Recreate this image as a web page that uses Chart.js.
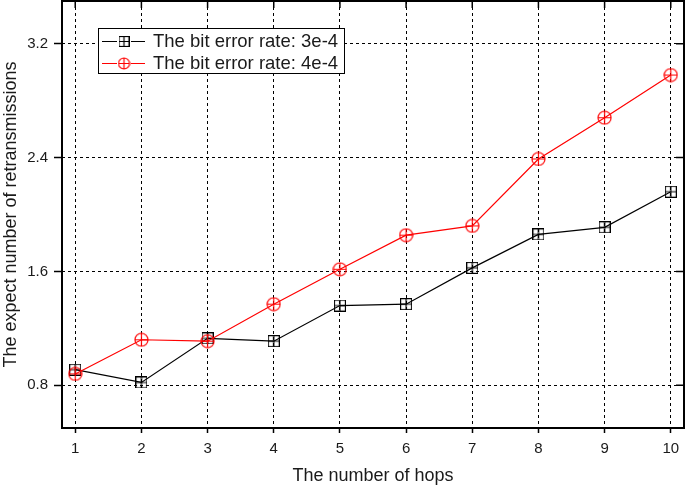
<!DOCTYPE html>
<html lang="en">
<head>
<meta charset="UTF-8">
<title>Expected retransmissions vs number of hops</title>
<script src="https://cdn.jsdelivr.net/npm/chart.js"></script>
<style>
    body { margin: 0; background: #fff; }
    .chart-container { width: 685px; height: 487px; }
</style>
</head>
<body>

<div class="chart-container"><canvas id="chart" width="685" height="487"></canvas></div>

<script>
    const hops = [1, 2, 3, 4, 5, 6, 7, 8, 9, 10];
    const ber3e4 = [0.91, 0.82, 1.13, 1.11, 1.36, 1.37, 1.625, 1.86, 1.91, 2.16];
    const ber4e4 = [0.88, 1.12, 1.11, 1.37, 1.615, 1.855, 1.92, 2.39, 2.68, 2.98];
    const yTicks = [0.8, 1.6, 2.4, 3.2];
    const seriesNames = ['The bit error rate: 3e-4', 'The bit error rate: 4e-4'];

    const FONT = '"Liberation Sans", Arial, Helvetica, sans-serif';
    const TEXT = '#1a1a1a';

    // square with a plus inside
    function boxPlus(size, color) {
        const c = document.createElement('canvas');
        c.width = c.height = size + 1;
        const ctx = c.getContext('2d');
        ctx.strokeStyle = color;
        ctx.lineWidth = 1.2;
        const m = (size + 1) / 2;
        ctx.strokeRect(0.5, 0.5, size, size);
        ctx.beginPath();
        ctx.moveTo(m, 0.5); ctx.lineTo(m, size + 0.5);
        ctx.moveTo(0.5, m); ctx.lineTo(size + 0.5, m);
        ctx.stroke();
        return c;
    }

    // circle with a plus inside
    function circlePlus(size, color) {
        const c = document.createElement('canvas');
        c.width = c.height = size + 2;
        const ctx = c.getContext('2d');
        ctx.strokeStyle = color;
        ctx.lineWidth = 1.2;
        const m = (size + 2) / 2, r = size / 2;
        ctx.beginPath();
        ctx.arc(m, m, r, 0, Math.PI * 2);
        ctx.moveTo(m, m - r); ctx.lineTo(m, m + r);
        ctx.moveTo(m - r, m); ctx.lineTo(m + r, m);
        ctx.stroke();
        return c;
    }

    const blackMark = boxPlus(11, '#000');
    const redMark = circlePlus(13, '#ff0000');

    const frameAndLegend = {
        id: 'frameAndLegend',
        afterDraw(chart) {
            const { ctx, chartArea: a, scales } = chart;
            ctx.save();
            // frame
            ctx.strokeStyle = '#000';
            ctx.lineWidth = 2;
            ctx.strokeRect(a.left, a.top, a.right - a.left, a.bottom - a.top);
            // mirrored ticks on top and right, pointing inside
            ctx.lineWidth = 1.5;
            ctx.beginPath();
            hops.forEach(v => {
                const x = scales.x.getPixelForValue(v);
                ctx.moveTo(x, a.top); ctx.lineTo(x, a.top + 7);
            });
            yTicks.forEach(v => {
                const y = scales.y.getPixelForValue(v);
                ctx.moveTo(a.right, y); ctx.lineTo(a.right - 8, y);
            });
            ctx.stroke();

            // legend box
            const lx = 98, ly = 28, lw = 246, lh = 45;
            ctx.fillStyle = '#fff';
            ctx.fillRect(lx, ly, lw, lh);
            ctx.lineWidth = 1;
            ctx.strokeStyle = '#000';
            ctx.strokeRect(lx + 0.5, ly + 0.5, lw, lh);

            const rows = [
                { y: 41.5, color: '#000', mark: boxPlus(10, '#000') },
                { y: 63.5, color: '#ff0000', mark: circlePlus(11, '#ff0000') }
            ];
            ctx.font = '18.5px ' + FONT;
            ctx.textBaseline = 'middle';
            ctx.textAlign = 'left';
            rows.forEach((r, i) => {
                ctx.strokeStyle = r.color;
                ctx.lineWidth = 1.2;
                ctx.beginPath();
                ctx.moveTo(102, r.y); ctx.lineTo(117, r.y);
                ctx.moveTo(131, r.y); ctx.lineTo(145, r.y);
                ctx.stroke();
                ctx.drawImage(r.mark, 124 - r.mark.width / 2, r.y - r.mark.height / 2);
                ctx.fillStyle = TEXT;
                ctx.fillText(seriesNames[i], 153, r.y);
            });
            ctx.restore();
        }
    };

    new Chart(document.getElementById('chart'), {
        type: 'line',
        data: {
            datasets: [
                {
                    label: seriesNames[0],
                    data: hops.map((h, i) => ({ x: h, y: ber3e4[i] })),
                    borderColor: '#000',
                    borderWidth: 1.2,
                    pointStyle: blackMark,
                    pointRadius: 6,
                    order: 2
                },
                {
                    label: seriesNames[1],
                    data: hops.map((h, i) => ({ x: h, y: ber4e4[i] })),
                    borderColor: '#ff0000',
                    borderWidth: 1.2,
                    pointStyle: redMark,
                    pointRadius: 7,
                    order: 1
                }
            ]
        },
        options: {
            responsive: false,
            animation: false,
            devicePixelRatio: 1,
            layout: { autoPadding: false, padding: { top: 1, right: 1, left: 0, bottom: 0 } },
            plugins: { legend: { display: false }, tooltip: { enabled: false } },
            scales: {
                x: {
                    type: 'linear',
                    min: 0.8,
                    max: 10.2,
                    afterBuildTicks: s => { s.ticks = hops.map(v => ({ value: v })); },
                    afterFit: s => { s.height = 59; s.paddingLeft = 0; s.paddingRight = 0; },
                    grid: { color: '#000', lineWidth: 1, tickLength: 5, tickColor: '#000', tickWidth: 1.5 },
                    border: { display: false, dash: [3, 3] },
                    ticks: { font: { family: FONT, size: 15 }, color: TEXT, padding: 7, maxRotation: 0 },
                    title: {
                        display: true,
                        text: 'The number of hops',
                        font: { family: FONT, size: 18 },
                        color: TEXT,
                        padding: { top: 0, bottom: 0 }
                    }
                },
                y: {
                    min: 0.5,
                    max: 3.5,
                    afterBuildTicks: s => { s.ticks = yTicks.map(v => ({ value: v })); },
                    afterFit: s => { s.width = 62; s.paddingTop = 0; s.paddingBottom = 0; },
                    grid: { color: '#000', lineWidth: 1, tickLength: 8, tickColor: '#000', tickWidth: 1.5 },
                    border: { display: false, dash: [3, 3] },
                    ticks: {
                        font: { family: FONT, size: 15 },
                        color: TEXT,
                        padding: 6,
                        callback: v => v.toFixed(1)
                    },
                    title: {
                        display: true,
                        text: 'The expect number of retransmissions',
                        font: { family: FONT, size: 18 },
                        color: TEXT,
                        padding: { top: 0, bottom: 0 }
                    }
                }
            }
        },
        plugins: [frameAndLegend]
    });
</script>

</body>
</html>
